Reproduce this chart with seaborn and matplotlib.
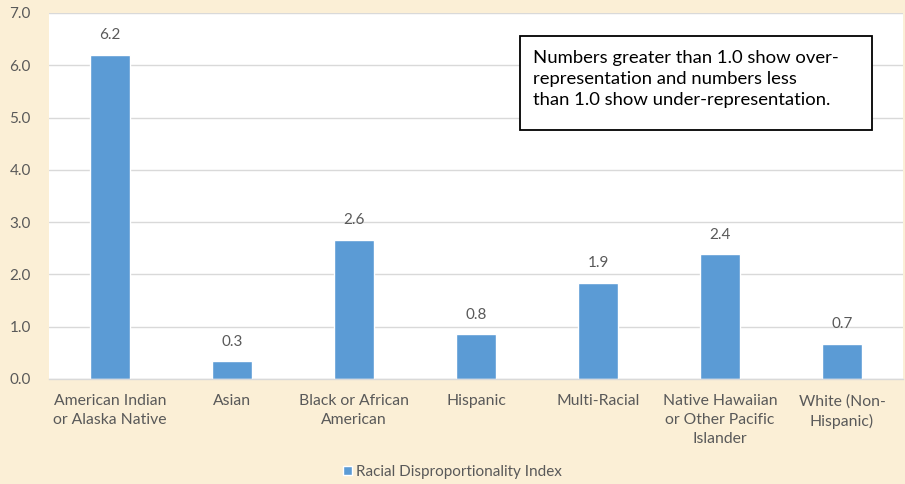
import matplotlib
matplotlib.use("Agg")
import matplotlib.pyplot as plt
import matplotlib.patches as mpatches
import seaborn as sns
import pandas as pd

categories = ["American Indian\nor Alaska Native", "Asian", "Black or African\nAmerican",
              "Hispanic", "Multi-Racial", "Native Hawaiian\nor Other Pacific\nIslander",
              "White (Non-\nHispanic)"]
values = [6.2, 0.34, 2.66, 0.86, 1.84, 2.39, 0.67]
value_labels = ["6.2", "0.3", "2.6", "0.8", "1.9", "2.4", "0.7"]
series_name = "Racial Disproportionality Index"
y_ticks = [0, 1, 2, 3, 4, 5, 6, 7]
note = ("Numbers greater than 1.0 show over-\n"
        "representation and numbers less\n"
        "than 1.0 show under-representation.")

sns.set_theme(style="white")
plt.rcParams["font.family"] = ["Lato", "DejaVu Sans"]

bg = "#FBEFD6"
bar_color = "#5B9BD5"
text_gray = "#595959"

df = pd.DataFrame({"category": categories, "value": values, "series": series_name})

fig = plt.figure(figsize=(9.05, 4.84), dpi=100, facecolor=bg)
ax = fig.add_axes([49/905, 105/484, 854/905, 366/484])
ax.set_facecolor("white")

sns.barplot(data=df, x="category", y="value", hue="series", palette=[bar_color],
            width=0.32, ax=ax, saturation=1, legend=True)

ax.set_ylim(0, 7)
ax.set_yticks(y_ticks)
ax.set_yticklabels([f"{t:.1f}" for t in y_ticks], color=text_gray, fontsize=11)
ax.yaxis.grid(True, color="#D9D9D9", linewidth=1)
ax.set_axisbelow(True)
for s in ["top", "right", "left"]:
    ax.spines[s].set_visible(False)
ax.spines["bottom"].set_color("#D9D9D9")
ax.spines["bottom"].set_linewidth(1)
ax.tick_params(axis="y", length=0, pad=13)
ax.tick_params(axis="x", length=0, pad=11)
ax.set_xticks(range(len(categories)))
ax.set_xticklabels(categories, color=text_gray, fontsize=11.3, linespacing=1.42)
ax.set_xlabel("")
ax.set_ylabel("")

for cont in ax.containers:
    ax.bar_label(cont, labels=value_labels, padding=9, color=text_gray, fontsize=11)

leg = ax.legend(loc="center", bbox_to_anchor=(0.5, 12/484), bbox_transform=fig.transFigure,
                frameon=False, fontsize=11, handlelength=0.6, handleheight=0.6,
                handletextpad=0.3)
for t in leg.get_texts():
    t.set_color(text_gray)

# note box
box = mpatches.Rectangle((520/905, 1 - 130/484), 352/905, 94/484, transform=fig.transFigure,
                         facecolor="white", edgecolor="black", linewidth=1.3, zorder=5)
fig.add_artist(box)
fig.text(533/905, 1 - 79/484, note, ha="left", va="center", fontsize=13.3,
         color="black", linespacing=1.4, zorder=6)

fig.savefig("out.png", dpi=100, facecolor=bg)
